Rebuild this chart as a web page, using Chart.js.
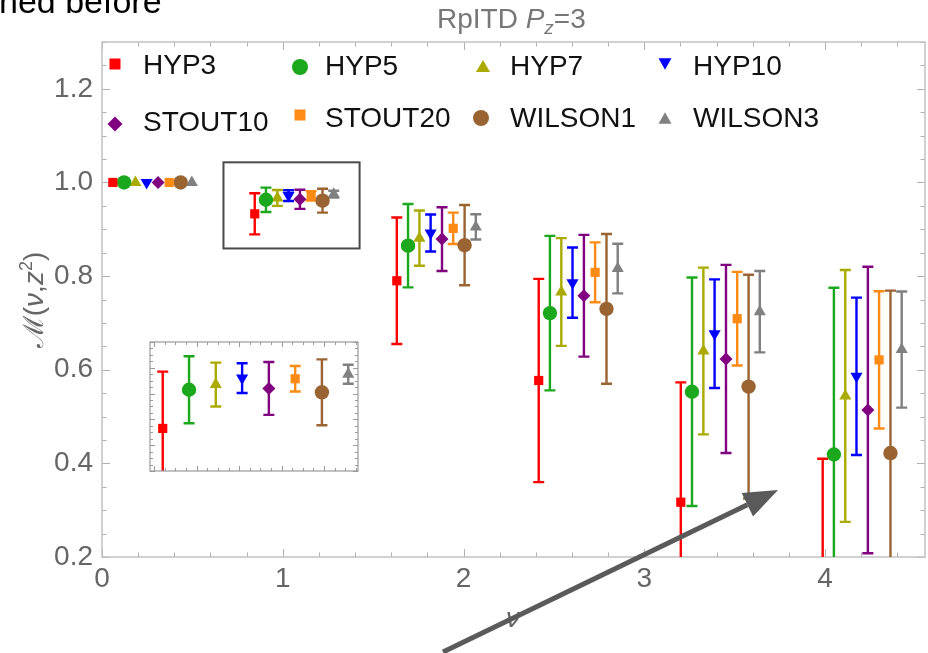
<!DOCTYPE html>
<html>
<head>
<meta charset="utf-8">
<style>
  html, body { margin: 0; padding: 0; background: #fff; overflow: hidden; }
  #wrap { position: relative; width: 928px; height: 653px; }
  #main { position: absolute; left: 0; top: 0; }
  #inset { position: absolute; left: 149px; top: 341px; }
</style>
<script src="https://cdn.jsdelivr.net/npm/chart.js@4.4.1/dist/chart.umd.min.js"></script>
</head>
<body>
<div id="wrap">
  <canvas id="main" width="928" height="653"></canvas>
  <canvas id="inset" width="210" height="131"></canvas>
</div>
<script>
/* RpITD Pz=3 — ratio vs nu for each smearing, with inset around nu ~ 1 */

// ---- data ----
const seriesNames = ['HYP3', 'HYP5', 'HYP7', 'HYP10', 'STOUT10', 'STOUT20', 'WILSON1', 'WILSON3'];
const nuBase  = [0, 0.785, 1.571, 2.356, 3.142, 3.927];
// horizontal shift of each series inside a cluster
const nuShift = [0.06, 0.122, 0.185, 0.247, 0.31, 0.372, 0.435, 0.497];

const mHyp3    = [1.0, 0.933, 0.790, 0.577, 0.317, 0.11];
const eHyp3    = [0, 0.044, 0.135, 0.217, 0.256, 0.30];
const mHyp5    = [1.0, 0.963, 0.865, 0.721, 0.553, 0.419];
const eHyp5    = [0, 0.026, 0.089, 0.165, 0.244, 0.356];
const mHyp7    = [1.0, 0.967, 0.881, 0.766, 0.640, 0.544];
const eHyp7    = [0, 0.017, 0.059, 0.115, 0.178, 0.269];
const mHyp10   = [1.0, 0.972, 0.892, 0.786, 0.677, 0.586];
const eHyp10   = [0, 0.0115, 0.0395, 0.075, 0.116, 0.168];
const mStout10 = [1.0, 0.964, 0.879, 0.758, 0.623, 0.514];
const eStout10 = [0, 0.0205, 0.068, 0.130, 0.201, 0.306];
const mStout20 = [1.0, 0.9715, 0.902, 0.808, 0.709, 0.621];
const eStout20 = [0, 0.0099, 0.0335, 0.064, 0.100, 0.1465];
const mWilson1 = [1.0, 0.961, 0.866, 0.730, 0.564, 0.422];
const eWilson1 = [0, 0.0255, 0.0857, 0.160, 0.239, 0.347];
const mWilson3 = [1.0, 0.975, 0.905, 0.816, 0.724, 0.643];
const eWilson3 = [0, 0.0074, 0.027, 0.053, 0.087, 0.124];

const xTicks = [0, 1, 2, 3, 4];
const yTicks = [0.2, 0.4, 0.6, 0.8, 1.0, 1.2];

const vals = [mHyp3, mHyp5, mHyp7, mHyp10, mStout10, mStout20, mWilson1, mWilson3];
const errs = [eHyp3, eHyp5, eHyp7, eHyp10, eStout10, eStout20, eWilson1, eWilson3];

// ---- styles ----
const FONT = "'Liberation Sans', Arial, sans-serif";
const styles = [
  { color: '#ff0000', shape: 'rect',     r: 6.5 },
  { color: '#1ca81c', shape: 'circle',   r: 7.2 },
  { color: '#aaaa00', shape: 'triangle', r: 7   },
  { color: '#0000ff', shape: 'triangle', r: 7, rot: 180 },
  { color: '#800080', shape: 'rectRot',  r: 6.5 },
  { color: '#ff8a14', shape: 'rect',     r: 6.5 },
  { color: '#9a6432', shape: 'circle',   r: 7.2 },
  { color: '#808080', shape: 'triangle', r: 7   },
];
// legend layout: marker x/y, text x, baseline y, marker size
const legendPos = [
  [115, 64, 143, 74, 11], [300, 67, 325, 75, 16], [483, 66, 510, 75, 14], [665, 64, 693, 75, 13],
  [115, 124, 143, 131, 15], [300, 115, 325, 127, 11], [481, 118, 510, 127, 16], [665, 118, 693, 127, 13],
];
// box marking the zoomed region (data coords)
const zoomBox = { x0: 0.672, x1: 1.425, y0: 0.859, y1: 1.043 };

function makeDataset(i, idx) {
  const s = styles[i];
  return {
    label: seriesNames[i],
    data: idx.map(k => ({ x: nuBase[k] + nuShift[i], y: vals[i][k], e: errs[i][k] })),
    pointStyle: s.shape,
    pointRotation: s.rot || 0,
    pointRadius: s.r,
    backgroundColor: s.color,
    borderColor: s.color,
    pointBorderWidth: 0,
    showLine: false,
    clip: 0,
  };
}

const errorBars = {
  id: 'errorBars',
  beforeDatasetsDraw(chart, args, opts) {
    const { ctx, chartArea: a, scales: { x, y } } = chart;
    const cap = opts.cap || 4.5;
    ctx.save();
    ctx.beginPath();
    ctx.rect(a.left, a.top, a.width, a.height);
    ctx.clip();
    ctx.lineWidth = opts.width || 2;
    chart.data.datasets.forEach(ds => {
      ctx.strokeStyle = ds.borderColor;
      ds.data.forEach(p => {
        if (!p.e) return;
        const px = x.getPixelForValue(p.x);
        const hi = y.getPixelForValue(p.y + p.e);
        const lo = y.getPixelForValue(p.y - p.e);
        ctx.beginPath();
        ctx.moveTo(px, hi); ctx.lineTo(px, lo);
        ctx.moveTo(px - cap, hi); ctx.lineTo(px + cap, hi);
        ctx.moveTo(px - cap, lo); ctx.lineTo(px + cap, lo);
        ctx.stroke();
      });
    });
    ctx.restore();
  }
};

// inward frame ticks, Mathematica style
function frameTicks(chart, o) {
  const { ctx, chartArea: a, scales: { x, y } } = chart;
  ctx.save();
  ctx.strokeStyle = o.tickColor;
  ctx.lineWidth = 1;
  ctx.beginPath();
  for (let i = 0; o.xMin + i * o.xStep <= x.max + 1e-9; i++) {
    const px = Math.round(x.getPixelForValue(o.xMin + i * o.xStep)) + 0.5;
    const len = i % o.xEvery === 0 ? o.major : o.minor;
    ctx.moveTo(px, a.bottom); ctx.lineTo(px, a.bottom - len);
    ctx.moveTo(px, a.top); ctx.lineTo(px, a.top + len);
  }
  for (let i = 0; o.yMin + i * o.yStep <= y.max + 1e-9; i++) {
    const py = Math.round(y.getPixelForValue(o.yMin + i * o.yStep)) + 0.5;
    const len = i % o.yEvery === 0 ? o.major : o.minor;
    ctx.moveTo(a.left, py); ctx.lineTo(a.left + len, py);
    ctx.moveTo(a.right, py); ctx.lineTo(a.right - len, py);
  }
  ctx.stroke();
  ctx.strokeStyle = o.frameColor;
  ctx.lineWidth = o.frameWidth;
  ctx.strokeRect(a.left, a.top, a.width, a.height);
  ctx.restore();
}

const mainFrame = {
  id: 'mainFrame',
  beforeDatasetsDraw(chart) {
    frameTicks(chart, { xMin: 0, xStep: 0.2, xEvery: 5, yMin: 0.2, yStep: 0.05, yEvery: 4,
      major: 8, minor: 4.5, tickColor: '#b0b0b0', frameColor: '#c2c2c2', frameWidth: 1.5 });
    const { ctx, chartArea: a, scales: { x, y } } = chart;
    ctx.save();
    ctx.fillStyle = '#666';
    ctx.font = '28px ' + FONT;
    ctx.textAlign = 'right'; ctx.textBaseline = 'middle';
    yTicks.forEach(v => ctx.fillText(v.toFixed(1), a.left - 9, y.getPixelForValue(v)));
    ctx.textAlign = 'center';
    xTicks.forEach(v => ctx.fillText(String(v), x.getPixelForValue(v), a.bottom + 22));
    ctx.restore();
  }
};

function drawRuns(ctx, runs, x, y) {
  runs.forEach(r => {
    ctx.font = r.f;
    ctx.fillText(r.t, x, y + (r.dy || 0));
    x += ctx.measureText(r.t).width;
  });
}
function runsWidth(ctx, runs) {
  return runs.reduce((w, r) => { ctx.font = r.f; return w + ctx.measureText(r.t).width; }, 0);
}

function drawMarker(ctx, s, x, y, size) {
  ctx.fillStyle = s.color;
  ctx.beginPath();
  const r = size / 2;
  if (s.shape === 'rect') ctx.rect(x - r, y - r, size, size);
  else if (s.shape === 'circle') ctx.arc(x, y, r, 0, Math.PI * 2);
  else if (s.shape === 'rectRot') {
    ctx.moveTo(x, y - r); ctx.lineTo(x + r, y); ctx.lineTo(x, y + r); ctx.lineTo(x - r, y);
  } else {
    const d = s.rot ? -1 : 1, h = size * 0.866;
    ctx.moveTo(x, y - d * h / 2); ctx.lineTo(x + r, y + d * h / 2); ctx.lineTo(x - r, y + d * h / 2);
  }
  ctx.closePath();
  ctx.fill();
}

const overlay = {
  id: 'overlay',
  afterDraw(chart) {
    const { ctx, scales: { x, y } } = chart;
    ctx.save();

    // zoom box
    ctx.strokeStyle = '#4a4a4a'; ctx.lineWidth = 2;
    const bx0 = x.getPixelForValue(zoomBox.x0), bx1 = x.getPixelForValue(zoomBox.x1);
    const by0 = y.getPixelForValue(zoomBox.y1), by1 = y.getPixelForValue(zoomBox.y0);
    ctx.strokeRect(bx0, by0, bx1 - bx0, by1 - by0);

    // legend
    ctx.textAlign = 'left'; ctx.textBaseline = 'alphabetic';
    seriesNames.forEach((name, i) => {
      const [mx, my, tx, ty, sz] = legendPos[i];
      drawMarker(ctx, styles[i], mx, my, sz);
      ctx.fillStyle = '#111';
      ctx.font = '28px ' + FONT;
      ctx.fillText(name, tx, ty);
    });

    // slide text cut off at the top
    ctx.fillStyle = '#000';
    ctx.font = '34px ' + FONT;
    ctx.fillText('ned before', -1, 13);

    // title
    ctx.fillStyle = '#777';
    drawRuns(ctx, [
      { t: 'RpITD ', f: '28px ' + FONT },
      { t: 'P', f: 'italic 28px ' + FONT },
      { t: 'z', f: 'italic 19px ' + FONT, dy: 6 },
      { t: '=3', f: '28px ' + FONT },
    ], 437, 28);

    // y label
    ctx.fillStyle = '#666';
    const yl = [
      { t: '\u2133(', f: '28px ' + FONT },
      { t: '\u03bd', f: 'italic 28px ' + FONT },
      { t: ',', f: '28px ' + FONT },
      { t: 'z', f: 'italic 28px ' + FONT },
      { t: '2', f: '18px ' + FONT, dy: -11 },
      { t: ')', f: '28px ' + FONT },
    ];
    ctx.save();
    ctx.translate(43, 300);
    ctx.rotate(-Math.PI / 2);
    drawRuns(ctx, yl, -runsWidth(ctx, yl) / 2, 0);
    ctx.restore();

    // x label
    ctx.font = 'italic 28px ' + FONT;
    ctx.textAlign = 'center';
    ctx.fillText('\u03bd', 513, 627);

    // annotation arrow
    const sx = 443, sy = 652, ex = 778, ey = 490;
    const ang = Math.atan2(ey - sy, ex - sx), L = 34, W = 13;
    const bx = ex - L * Math.cos(ang), byy = ey - L * Math.sin(ang);
    ctx.strokeStyle = '#5a5a5a'; ctx.fillStyle = '#5a5a5a';
    ctx.lineWidth = 5;
    ctx.beginPath(); ctx.moveTo(sx, sy); ctx.lineTo(bx, byy); ctx.stroke();
    ctx.beginPath();
    ctx.moveTo(ex, ey);
    ctx.lineTo(bx - W * Math.sin(ang), byy + W * Math.cos(ang));
    ctx.lineTo(bx + W * Math.sin(ang), byy - W * Math.cos(ang));
    ctx.closePath(); ctx.fill();
    ctx.restore();
  }
};

const baseOptions = {
  responsive: false,
  animation: false,
  events: [],
  devicePixelRatio: 1,
};

new Chart(document.getElementById('main'), {
  type: 'scatter',
  data: { datasets: seriesNames.map((n, i) => makeDataset(i, [0, 1, 2, 3, 4, 5])) },
  options: {
    ...baseOptions,
    layout: { autoPadding: false, padding: { left: 102, right: 3, top: 42, bottom: 96 } },
    scales: {
      x: { type: 'linear', min: 0, max: 4.553, display: false },
      y: { type: 'linear', min: 0.2, max: 1.3, display: false },
    },
    plugins: { legend: { display: false }, tooltip: { enabled: false }, errorBars: { cap: 5.5, width: 2.4 } },
  },
  plugins: [mainFrame, errorBars, overlay],
});

// inset: cluster at nu ~ 1 magnified
const insetBg = {
  id: 'insetBg',
  beforeDraw(chart) {
    const { ctx } = chart;
    ctx.save(); ctx.fillStyle = '#fff';
    ctx.fillRect(0, 0, chart.width, chart.height);
    ctx.restore();
  },
  afterDatasetsDraw(chart) {
    frameTicks(chart, { xMin: 0.825, xStep: 0.025, xEvery: 4, yMin: 0.9, yStep: 0.005, yEvery: 4,
      major: 5, minor: 3, tickColor: '#9a9a9a', frameColor: '#9a9a9a', frameWidth: 1.2 });
  }
};

new Chart(document.getElementById('inset'), {
  type: 'scatter',
  data: { datasets: seriesNames.map((n, i) => makeDataset(i, [1])) },
  options: {
    ...baseOptions,
    layout: { autoPadding: false, padding: { left: 1, right: 1, top: 1, bottom: 1 } },
    scales: {
      x: { type: 'linear', min: 0.815, max: 1.305, display: false },
      y: { type: 'linear', min: 0.9, max: 1.0, display: false },
    },
    plugins: { legend: { display: false }, tooltip: { enabled: false }, errorBars: { cap: 5.5, width: 2.4 } },
  },
  plugins: [insetBg, errorBars],
});
</script>
</body>
</html>
